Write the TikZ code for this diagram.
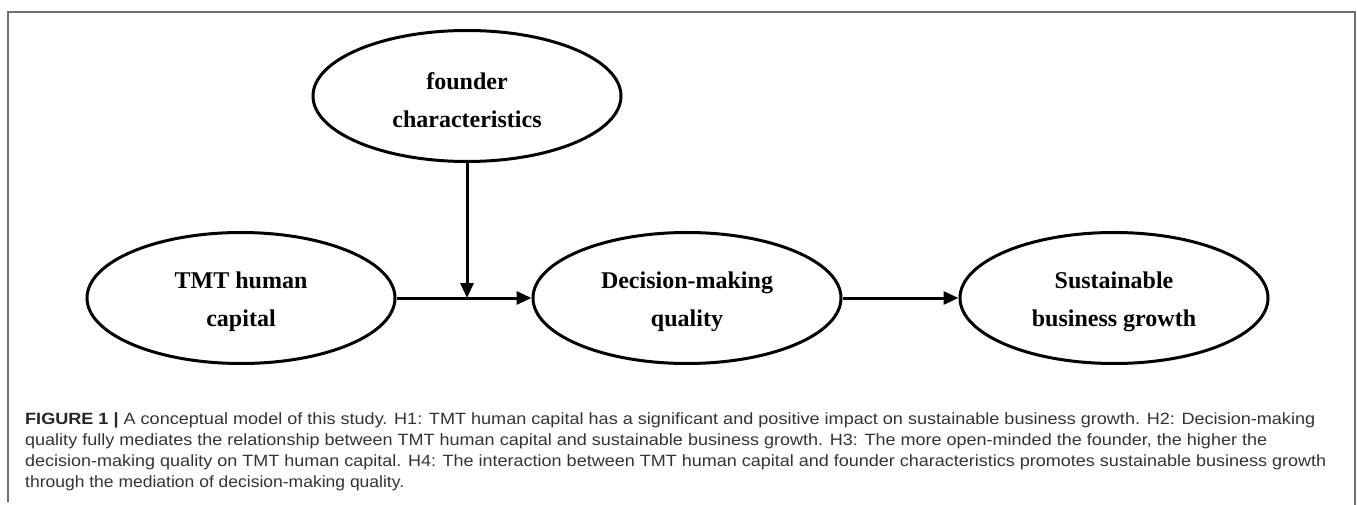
\documentclass[tikz,border=0pt]{standalone}
\usepackage{fontspec}
\usepackage{graphicx}
\setmainfont{Liberation Serif}
\newfontfamily\capfont{Liberation Sans}
\usetikzlibrary{shapes.geometric,arrows.meta}
\definecolor{captext}{HTML}{333333}
\definecolor{framecol}{HTML}{707070}
\newcommand{\toppad}{\rule{0pt}{25pt}}
\begin{document}
\begin{tikzpicture}[x=1pt,y=-1pt,
  var/.style={draw,line width=3pt,ellipse,minimum width=308pt,minimum height=131pt,
    inner sep=0pt,align=center,font=\fontsize{24}{38}\selectfont\bfseries},
  conn/.style={line width=3pt,-{Triangle[length=15pt,width=13pt]}},
  frameline/.style={draw=framecol,line width=1.8pt},
  capline/.style={anchor=base west,inner sep=0pt,text=captext,
    font=\capfont\fontsize{16.3}{22}\selectfont}]
\useasboundingbox (0,0) rectangle (1357,505);
% frame
\draw[frameline] (8,502) -- (8,12) -- (1355,12) -- (1355,505);
% variables
\node[var] (fc)  at (467,96)  {\toppad founder\\characteristics};
\node[var] (tmt) at (241,298) {\toppad TMT human\\capital};
\node[var] (dmq) at (687,298) {\toppad Decision-making\\quality};
\node[var] (sbg) at (1114,298) {\toppad Sustainable\\business growth};
% connectors
\coordinate (join) at (fc.south |- tmt.east);
\draw[conn] (tmt) -- (dmq);
\draw[conn] (fc) -- (join);
\draw[conn] (dmq) -- (sbg);
% caption
\node[capline] (c1) at (25,424) {\resizebox{1290pt}{\height}{\textbf{\color{black!85}FIGURE 1 |} A conceptual model of this study. H1: TMT human capital has a significant and positive impact on sustainable business growth. H2: Decision-making}};
\node[capline] (c2) at (25,445) {\resizebox{1242pt}{\height}{quality fully mediates the relationship between TMT human capital and sustainable business growth. H3: The more open-minded the founder, the higher the}};
\node[capline] (c3) at (25,466) {\resizebox{1301pt}{\height}{decision-making quality on TMT human capital. H4: The interaction between TMT human capital and founder characteristics promotes sustainable business growth}};
\node[capline] (c4) at (25,487) {\resizebox{379pt}{\height}{through the mediation of decision-making quality.}};
\end{tikzpicture}
\end{document}
